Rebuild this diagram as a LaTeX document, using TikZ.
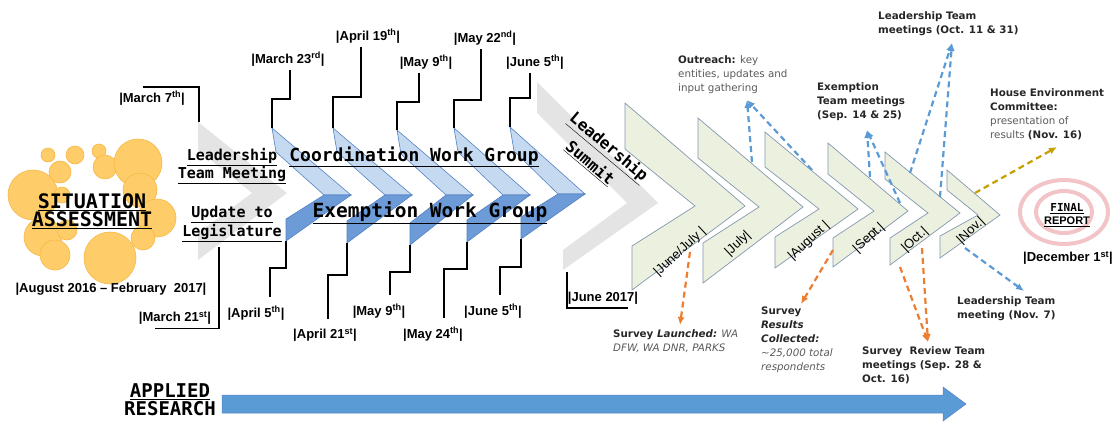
\documentclass[tikz,border=0pt]{standalone}
\usepackage{fontspec}
\setmainfont{Liberation Sans}
\newfontfamily\codefont{DejaVu Sans Mono}
\newfontfamily\notefont{DejaVu Sans}
\usetikzlibrary{arrows.meta}

\definecolor{bubble}{RGB}{254,205,105}
\definecolor{bubbleline}{RGB}{246,184,70}
\definecolor{chevgray}{RGB}{228,228,228}
\definecolor{cwgblue}{RGB}{197,217,241}
\definecolor{ewgblue}{RGB}{108,155,216}
\definecolor{chevline}{RGB}{84,130,196}
\definecolor{monthgreen}{RGB}{235,241,222}
\definecolor{monthline}{RGB}{132,151,176}
\definecolor{dashblue}{RGB}{91,155,213}
\definecolor{dashorange}{RGB}{237,125,49}
\definecolor{dashgold}{RGB}{197,160,0}
\definecolor{ringpink}{RGB}{242,196,200}
\definecolor{notegray}{RGB}{89,89,89}
\definecolor{notebold}{RGB}{38,38,38}
\newcommand\notebf[1]{\textcolor{notebold}{\bfseries #1}}

\begin{document}
\begin{tikzpicture}[x=1pt, y=-1pt, >={Latex[length=8pt,width=7pt]},
    date/.style={font=\bfseries\fontsize{13}{15}\selectfont, inner sep=1pt, outer sep=3pt},
    month/.style={font=\fontsize{13}{15}\selectfont, rotate=43, inner sep=1pt},
    code/.style={font=\codefont\bfseries\fontsize{15}{16}\selectfont, align=center, inner sep=0pt},
    note/.style={font=\notefont\fontsize{10.3}{14}\selectfont, align=left, anchor=north west, inner sep=0pt, text=notegray},
    boldnote/.style={note, font=\notefont\bfseries\fontsize{10.3}{14}\selectfont, text=notebold},
    bracket/.style={line width=1.6pt},
    cwg/.style={fill=cwgblue, draw=chevline, line width=0.6pt},
    ewg/.style={fill=ewgblue, draw=chevline, line width=0.6pt},
    mon/.style={fill=monthgreen, draw=monthline, line width=0.7pt},
    dasharrow/.style={->, line width=2.2pt, dash pattern=on 6pt off 4pt},
  ]
  \useasboundingbox (0,0) rectangle (1117,421);

  % situation assessment
  \foreach \x/\y/\r in {48/155/7, 75/155/9, 99/151/7, 60/172/11, 105/167/12, 138/163/24, 33/195/25, 140/190/17, 62/195/8, 157/218/19, 43/237/19, 67/230/10, 143/238/12, 55/255/15, 110/258/26} {
    \filldraw[fill=bubble, draw=bubbleline, line width=0.6pt] (\x,\y) circle (\r);
  };
  \node[code, font=\codefont\bfseries\fontsize{20}{18}\selectfont] (t-situ) at (92,211) {\underline{SITUATION}\\\underline{ASSESSMENT}};
  \node[date] (d-period) at (111,289) {|August 2016 – February\ \ 2017|};

  % gray chevrons
  \fill[chevgray] (198,122) -- (287,193) -- (198,260) -- (198,233) -- (252,193) -- (198,150) -- cycle;
  \coordinate (g1-tl) at (199,122);
  \coordinate (g1-low) at (219,247);
  \fill[chevgray] (537,82) -- (658,203) -- (563,270) -- (563,250) -- (627,203) -- (537,113) -- cycle;
  \coordinate (gs-bl) at (567,272);

  \node[code] (t-ltm) at (232,166) {\underline{Leadership}\\\underline{Team Meeting}};
  \node[code] (t-upd) at (232,224) {\underline{Update to}\\\underline{Legislature}};

  % work group chevrons
  \foreach \i/\xl/\yt/\xt/\ym/\xb/\yb in {1/272/128/351/195/286/241, 2/333/128/412/195/347/243, 3/397/130/473/195/410/245, 4/454/128/530/195/467/242, 5/510/127/585/194/521/239} {
    \filldraw[cwg] (\xl,\yt) -- (\xt,\ym) -- (\xt-27,\ym) -- (\xl+4,\yt+24) -- cycle;
    \filldraw[ewg] (\xt-27,\ym) -- (\xt,\ym) -- (\xb,\yb) -- (\xb,\yb-22) -- cycle;
    \coordinate (b\i-tl) at (\xl,\yt);
    \coordinate (b\i-bl) at (\xb,\yb);
  };
  \node[code, font=\codefont\bfseries\fontsize{18}{18}\selectfont] (t-cwg) at (414,157) {\underline{Coordination Work Group}};
  \node[code, font=\codefont\bfseries\fontsize{19.5}{18}\selectfont] (t-ewg) at (430,213) {\underline{Exemption Work Group}};

  \node[code, font=\codefont\bfseries\fontsize{16}{16}\selectfont, rotate=-40] (t-lead) at (608,148) {\underline{Leadership}};
  \node[code, font=\codefont\bfseries\fontsize{16}{16}\selectfont, rotate=-40] (t-summ) at (590,163) {\underline{Summit}};

  % month chevrons
  \foreach \xl/\yt/\xt/\ym/\xb/\yb/\xn/\yti/\ybi in {625/103/745/206/632/290/695/149/246, 698/118/803/207/703/283/759/158/243, 765/132/858/209/775/268/819/167/237, 828/143/908/211/833/267/874/174/238, 885/152/960/213/890/265/928/179/238, 947/170/1000/215/940/258/978/190/236} {
    \filldraw[mon] (\xl,\yt) -- (\xt,\ym) -- (\xb,\yb) -- (\xb,\ybi) -- (\xn,\ym) -- (\xl,\yti) -- cycle;
  };
  \node[month] (m-junjul) at (680,252) {|June/July |};
  \node[month] (m-jul) at (738,244) {|July|};
  \node[month] (m-aug) at (809,241) {|August |};
  \node[month] (m-sep) at (869,238) {|Sept.|};
  \node[month] (m-oct) at (915,240) {|Oct.|};
  \node[month] (m-nov) at (971,231) {|Nov.|};

  % dates and brackets
  \node[date] (d-mar7) at (152,98) {|March 7\textsuperscript{th}|};
  \node[date] (d-mar21) at (175,318) {|March 21\textsuperscript{st}|};
  \node[date] (d-mar23) at (288,59) {|March 23\textsuperscript{rd}|};
  \node[date] (d-apr19) at (368,36) {|April 19\textsuperscript{th}|};
  \node[date] (d-may9t) at (426,62) {|May 9\textsuperscript{th}|};
  \node[date] (d-may22) at (485,38) {|May 22\textsuperscript{nd}|};
  \node[date] (d-jun5t) at (535,62) {|June 5\textsuperscript{th}|};
  \node[date] (d-apr5) at (256,313) {|April 5\textsuperscript{th}|};
  \node[date] (d-apr21) at (325,335) {|April 21\textsuperscript{st}|};
  \node[date] (d-may9b) at (379,311) {|May 9\textsuperscript{th}|};
  \node[date] (d-may24) at (433,334) {|May 24\textsuperscript{th}|};
  \node[date] (d-jun5b) at (493,311) {|June 5\textsuperscript{th}|};
  \node[date] (d-jun17) at (603,298) {|June 2017|};

  \draw[bracket] (g1-tl) |- ([xshift=-9pt]d-mar7.north);
  \draw[bracket] (g1-low) |- ([xshift=-20pt]d-mar21.south);
  \draw[bracket] (gs-bl) |- ([xshift=25pt]d-jun17.south);
  \draw[bracket] (b1-tl) |- ++(18,-29) -- ([xshift=2pt]d-mar23.south);
  \draw[bracket] (b2-tl) |- ++(28,-31) -- ([xshift=-7pt]d-apr19.south);
  \draw[bracket] (b3-tl) |- ++(22,-28) -- ([xshift=-7pt]d-may9t.south);
  \draw[bracket] (b4-tl) |- ++(27,-28) -- ([xshift=-4pt]d-may22.south);
  \draw[bracket] (b5-tl) |- ++(20,-29) -- ([xshift=-5pt]d-jun5t.south);
  \draw[bracket] (b1-bl) |- ++(-16,27) -- ([xshift=14pt,yshift=5pt]d-apr5.north);
  \draw[bracket] (b2-bl) |- ++(-19,32) -- ([xshift=3pt,yshift=5pt]d-apr21.north);
  \draw[bracket] (b3-bl) |- ++(-20,27) -- ([xshift=11pt,yshift=5pt]d-may9b.north);
  \draw[bracket] (b4-bl) |- ++(-23,27) -- ([xshift=11pt,yshift=5pt]d-may24.north);
  \draw[bracket] (b5-bl) |- ++(-21,28) -- ([xshift=7pt,yshift=5pt]d-jun5b.north);

  % notes
  \node[note] (n-outreach) at (678,55) {\notebf{Outreach:} key\\entities, updates and\\input gathering};
  \node[boldnote] (n-exempt) at (817,82) {Exemption\\Team meetings\\(Sep. 14 \& 25)};
  \node[boldnote] (n-ltmoct) at (878,11) {Leadership Team\\meetings (Oct. 11 \& 31)};
  \node[note] (n-house) at (990,88) {\notebf{House Environment}\\\notebf{Committee:}\\presentation of\\results \notebf{(Nov. 16)}};
  \node[boldnote] (n-ltmnov) at (957,296) {Leadership Team\\meeting (Nov. 7)};
  \node[note] (n-launch) at (613,329) {\notebf{Survey \textit{Launched:}} \textit{WA}\\\textit{DFW, WA DNR, PARKS}};
  \node[note] (n-results) at (761,307) {\notebf{Survey}\\\notebf{\textit{Results}}\\\notebf{\textit{Collected:}}\\\textit{\textasciitilde 25,000 total}\\\textit{respondents}};
  \node[boldnote] (n-review) at (862,346) {Survey\ \ Review Team\\meetings (Sep. 28 \&\\Oct. 16)};

  % dashed arrows
  \coordinate (jul-top) at (752,162);
  \coordinate (aug-top) at (812,170);
  \coordinate (out-end) at (747,100);
  \coordinate (sep-top) at (870,177);
  \coordinate (oct-top1) at (900,203);
  \coordinate (ex-end) at (867,130);
  \coordinate (oct-top2) at (910,173);
  \coordinate (nov-top) at (940,197);
  \coordinate (lto-end) at (952,43);
  \coordinate (nov-bot) at (965,248);
  \coordinate (ltn-end) at (1024,291);
  \coordinate (jj-bot) at (690,252);
  \coordinate (la-end) at (680,325);
  \coordinate (aug-bot) at (833,250);
  \coordinate (rc-end) at (801,304);
  \coordinate (sep-bot) at (900,267);
  \coordinate (oct-bot) at (922,248);
  \coordinate (rv-end) at (928,342);
  \coordinate (nov-tip) at (975,193);
  \coordinate (he-end) at (1057,147);

  \draw[dasharrow, dashblue] (jul-top) -- (out-end);
  \draw[dasharrow, dashblue] (aug-top) -- (out-end);
  \draw[dasharrow, dashblue] (sep-top) -- (ex-end);
  \draw[dasharrow, dashblue] (oct-top1) -- (ex-end);
  \draw[dasharrow, dashblue] (oct-top2) -- (lto-end);
  \draw[dasharrow, dashblue] (nov-top) -- (lto-end);
  \draw[dasharrow, dashblue] (nov-bot) -- (ltn-end);
  \draw[dasharrow, dashorange] (jj-bot) -- (la-end);
  \draw[dasharrow, dashorange] (aug-bot) -- (rc-end);
  \draw[dasharrow, dashorange] (sep-bot) -- (rv-end);
  \draw[dasharrow, dashorange] (oct-bot) -- (rv-end);
  \draw[dasharrow, dashgold] (nov-tip) -- (he-end);

  % final report
  \draw[ringpink, line width=4pt] (1064,212) ellipse (44 and 32);
  \draw[ringpink, line width=4pt] (1064,212) ellipse (28 and 21);
  \node[align=center, inner sep=0pt, font=\bfseries\fontsize{11}{13}\selectfont] (t-final) at (1067,215) {{\codefont\underline{FINAL}}\\\underline{REPORT}};
  \node[date] (d-dec1) at (1068,258) {|December 1\textsuperscript{st}|};

  % applied research
  \filldraw[fill=dashblue, draw=chevline, line width=0.5pt] (222,395) -- (943,395) -- (943,387) -- (966,404) -- (943,421) -- (943,413) -- (222,413) -- cycle;
  \node[code, font=\codefont\bfseries\fontsize{19}{18}\selectfont] (t-applied) at (170,400) {\underline{APPLIED}\\RESEARCH};
\end{tikzpicture}
\end{document}
